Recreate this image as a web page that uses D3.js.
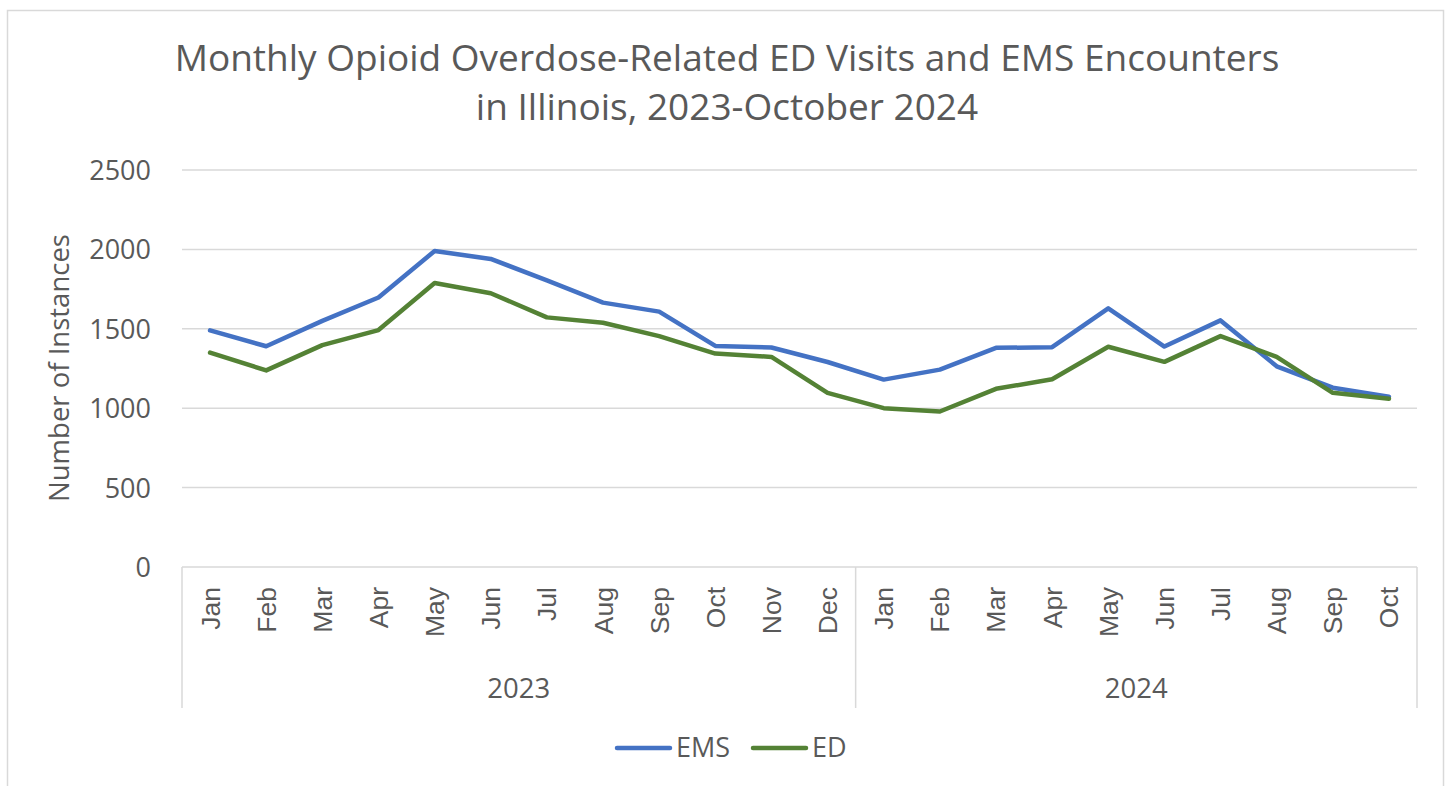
<!DOCTYPE html>
<html><head><meta charset="utf-8">
<script src="https://cdn.jsdelivr.net/npm/d3@7"></script>
<style>body{margin:0;background:#fff;} svg{display:block;}</style>
</head><body>
<svg id="c" width="1450" height="786"></svg>
<script>
const months = ["Jan","Feb","Mar","Apr","May","Jun","Jul","Aug","Sep","Oct","Nov","Dec","Jan","Feb","Mar","Apr","May","Jun","Jul","Aug","Sep","Oct"];
const years = [{label:"2023", start:0, end:12},{label:"2024", start:12, end:22}];
const emsValues = [1490,1390,1550,1697,1990,1940,1805,1665,1608,1392,1382,1291,1180,1243,1380,1384,1629,1388,1553,1264,1129,1072];
const edValues  = [1350,1238,1397,1492,1788,1724,1572,1538,1454,1344,1323,1097,1000,979,1122,1182,1387,1292,1454,1323,1097,1060];
const yTicks = [0,500,1000,1500,2000,2500];
const seriesNames = ["EMS","ED"];
const seriesColors = ["#4472C4","#548235"];
const titleLines = ["Monthly Opioid Overdose-Related ED Visits and EMS Encounters","in Illinois, 2023-October 2024"];

const svg = d3.select("#c");
const font = "'Open Sans', sans-serif";
const monthFont = "'Liberation Sans', Arial, sans-serif";
const txt = "#595959";
const grid = "#d9d9d9";

svg.append("rect").attr("x",7.5).attr("y",10.5).attr("width",1436).attr("height",790)
  .attr("fill","#fff").attr("stroke",grid).attr("stroke-width",1.5);

const L=182, R=1417, T=170, B=567;
const idx = d3.range(months.length);
const x = d3.scaleBand().domain(idx).range([L,R]);
const y = d3.scaleLinear().domain([0,2500]).range([B,T]);

// title
svg.append("text").attr("x",727).attr("y",71).attr("text-anchor","middle")
  .attr("font-family",font).attr("font-size",37).attr("fill",txt)
  .selectAll("tspan").data(titleLines).join("tspan")
  .attr("x",727).attr("dy",(d,i)=>i?49:0).text(d=>d);

// gridlines
svg.append("g").selectAll("line").data(yTicks.filter(d=>d>0)).join("line")
  .attr("x1",L).attr("x2",R).attr("y1",d=>y(d)).attr("y2",d=>y(d))
  .attr("stroke",grid).attr("stroke-width",1.5);

// y axis labels
const yAxis = d3.axisLeft(y).tickValues(yTicks).tickFormat(d3.format("d")).tickSize(0).tickPadding(31);
const gy = svg.append("g").attr("transform",`translate(${L},0)`).call(yAxis);
gy.select(".domain").remove();
gy.selectAll("text").attr("font-family",font).attr("font-size",27).attr("fill",txt).attr("dy","0.35em");

// y title
svg.append("text").attr("transform","translate(69,368) rotate(-90)").attr("text-anchor","middle")
  .attr("font-family",font).attr("font-size",27.5).attr("fill",txt).text("Number of Instances");

// category axis
const ax = svg.append("g");
ax.append("line").attr("x1",L).attr("x2",R).attr("y1",B).attr("y2",B).attr("stroke",grid).attr("stroke-width",1.5);
const seps = [0,12,22].map(i=> i<22 ? x(i) : x(21)+x.bandwidth());
ax.selectAll("line.sep").data(seps).join("line").attr("class","sep")
  .attr("x1",d=>d).attr("x2",d=>d).attr("y1",B).attr("y2",708).attr("stroke",grid).attr("stroke-width",1.5);
ax.selectAll("text.m").data(idx).join("text").attr("class","m")
  .attr("transform",i=>`translate(${x(i)+x.bandwidth()/2+9.5},587) rotate(-90)`)
  .attr("text-anchor","end").attr("font-family",monthFont).attr("font-size",26.5).attr("fill",txt)
  .text(i=>months[i]);
ax.selectAll("text.yr").data(years).join("text").attr("class","yr")
  .attr("x",d=>(x(d.start)+ (d.end<22?x(d.end):x(21)+x.bandwidth()))/2).attr("y",698)
  .attr("text-anchor","middle").attr("font-family",font).attr("font-size",27.5).attr("fill",txt)
  .text(d=>d.label);

// lines
const line = d3.line().x((d,i)=>x(i)+x.bandwidth()/2).y(d=>y(d));
[emsValues,edValues].forEach((vals,k)=>{
  svg.append("path").datum(vals).attr("d",line).attr("fill","none")
    .attr("stroke",seriesColors[k]).attr("stroke-width",4.5)
    .attr("stroke-linejoin","round").attr("stroke-linecap","round");
});

// legend
const legendX = [617,753];
seriesNames.forEach((n,k)=>{
  const g = svg.append("g").attr("transform",`translate(${legendX[k]},748)`);
  g.append("line").attr("x1",0).attr("x2",53).attr("stroke",seriesColors[k]).attr("stroke-width",4.5).attr("stroke-linecap","round");
  g.append("text").attr("x",59).attr("y",0).attr("dy","0.35em").attr("font-family",font).attr("font-size",27).attr("fill",txt).text(n);
});
</script>
</body></html>
